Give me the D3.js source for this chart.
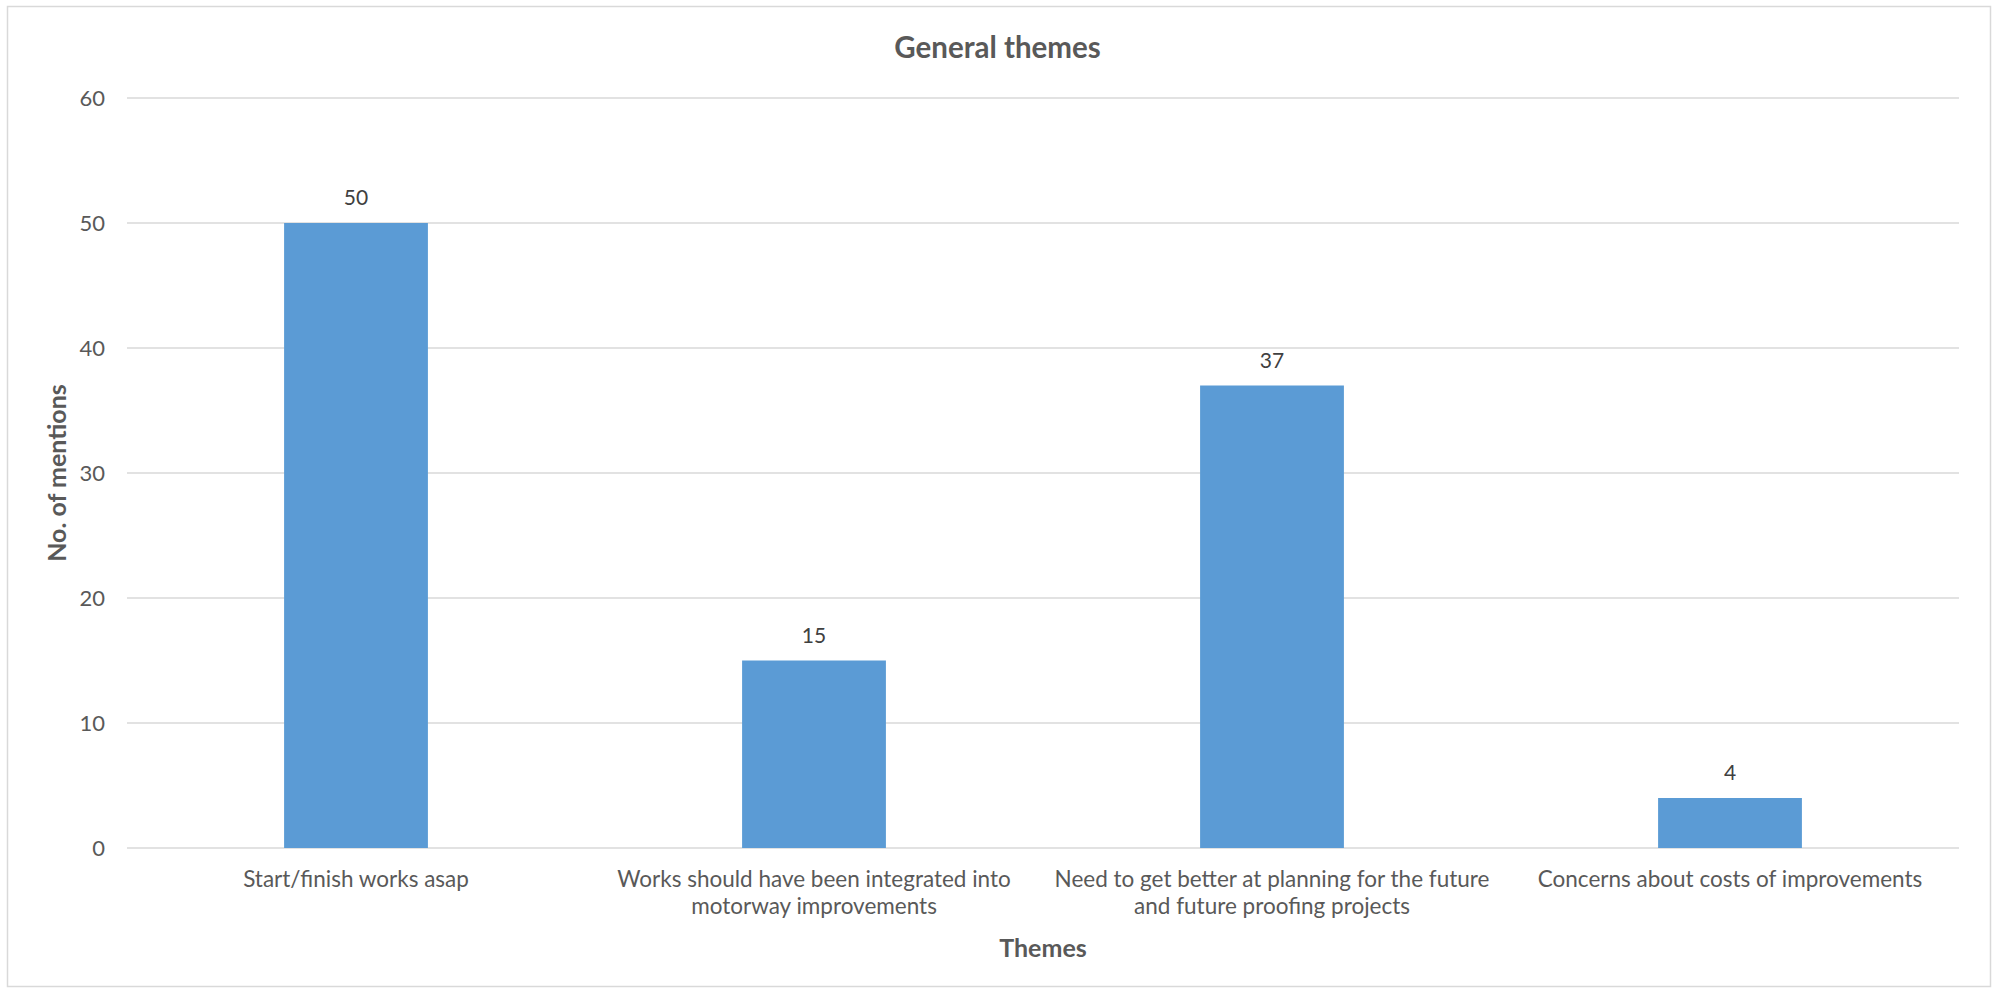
<!DOCTYPE html>
<html><head><meta charset="utf-8">
<script src="https://cdn.jsdelivr.net/npm/d3@7"></script>
<style>body{margin:0;background:#fff}svg{display:block}</style>
</head><body>
<script>
const categories = [
  ["Start/finish works asap"],
  ["Works should have been integrated into", "motorway improvements"],
  ["Need to get better at planning for the future", "and future proofing projects"],
  ["Concerns about costs of improvements"]
];
const values = [50, 15, 37, 4];
const yTicks = [0, 10, 20, 30, 40, 50, 60];
const title = "General themes";
const xTitle = "Themes";
const yTitle = "No. of mentions";

(function () {
const W = 1995, H = 992;
const font = "Lato, 'Open Sans', sans-serif";
const textColor = "#595959";
const svg = d3.select("body").append("svg").attr("width", W).attr("height", H);
svg.append("rect").attr("width", W).attr("height", H).attr("fill", "#fff");
svg.append("rect").attr("x", 7.5).attr("y", 6.5).attr("width", 1983).attr("height", 980)
  .attr("fill", "none").attr("stroke", "#d9d9d9").attr("stroke-width", 1.5);

const pl = 127, pr = 1959, pt = 98, pb = 848;
const x = d3.scaleBand().domain(d3.range(categories.length)).range([pl, pr]).paddingInner(0.686).paddingOuter(0.343);
const y = d3.scaleLinear().domain([0, 60]).range([pb, pt]);

const g = svg.append("g");
g.selectAll("line.grid").data(yTicks).enter().append("line")
  .attr("x1", pl).attr("x2", pr)
  .attr("y1", d => y(d)).attr("y2", d => y(d))
  .attr("stroke", "#d9d9d9").attr("stroke-width", 1.5);

const yAxis = d3.axisLeft(y).tickValues(yTicks).tickSize(0).tickPadding(22);
const ya = svg.append("g").attr("transform", `translate(${pl},0)`).call(yAxis);
ya.select(".domain").remove();
ya.selectAll("text").attr("font-family", font).attr("font-size", 22).attr("fill", textColor);

g.selectAll("rect.bar").data(values).enter().append("rect")
  .attr("x", (d, i) => x(i)).attr("width", x.bandwidth())
  .attr("y", d => y(d)).attr("height", d => y(0) - y(d))
  .attr("fill", "#5b9bd5");

g.selectAll("text.val").data(values).enter().append("text")
  .attr("x", (d, i) => x(i) + x.bandwidth() / 2).attr("y", d => y(d) - 18)
  .attr("text-anchor", "middle").attr("font-family", font).attr("font-size", 21).attr("fill", "#404040")
  .text(d => d);

const cat = g.selectAll("text.cat").data(categories).enter().append("text")
  .attr("text-anchor", "middle").attr("font-family", font).attr("font-size", 22.5).attr("fill", textColor)
  .attr("transform", (d, i) => `translate(${x(i) + x.bandwidth() / 2},0)`);
cat.selectAll("tspan").data(d => d).enter().append("tspan")
  .attr("x", 0).attr("y", (d, j) => 887 + j * 27).text(d => d);

svg.append("text").attr("x", W / 2).attr("y", 58).attr("text-anchor", "middle")
  .attr("font-family", font).attr("font-size", 29.5).attr("font-weight", "bold").attr("fill", textColor).text(title);
svg.append("text").attr("x", (pl + pr) / 2).attr("y", 957).attr("text-anchor", "middle")
  .attr("font-family", font).attr("font-size", 25).attr("font-weight", "bold").attr("fill", textColor).text(xTitle);
svg.append("text").attr("transform", `translate(66,${(pt + pb) / 2}) rotate(-90)`).attr("text-anchor", "middle")
  .attr("font-family", font).attr("font-size", 25).attr("font-weight", "bold").attr("fill", textColor).text(yTitle);
})();
</script>
</body></html>
